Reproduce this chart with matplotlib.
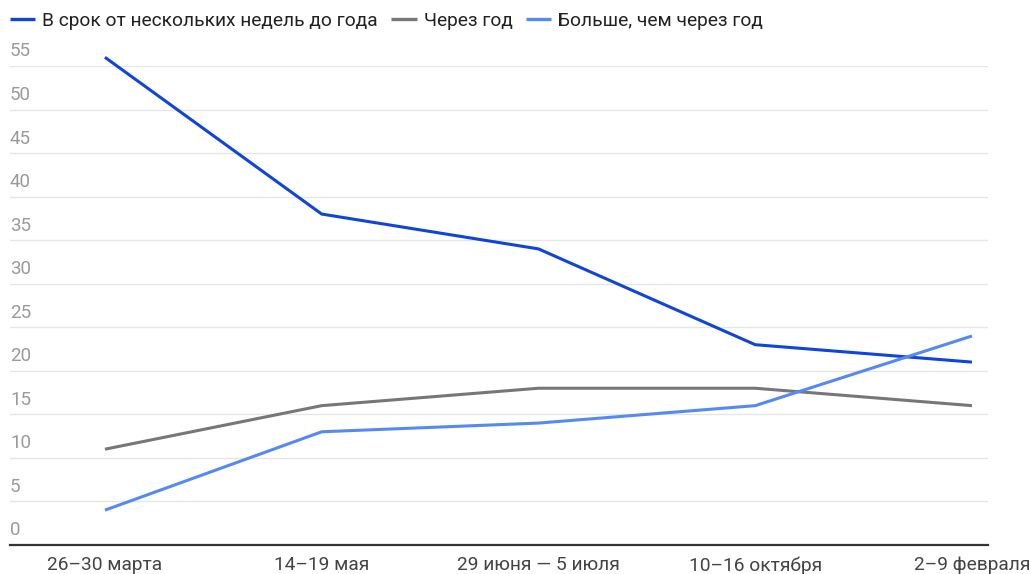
import matplotlib
matplotlib.use("Agg")
import matplotlib.pyplot as plt
from matplotlib import font_manager as fm
import matplotlib.transforms as mtransforms

names = {f.name for f in fm.fontManager.ttflist}
fam = [f for f in ["Liberation Sans Narrow", "Roboto", "DejaVu Sans"] if f in names]
plt.rcParams['font.family'] = fam

categories = ["26–30 марта", "14–19 мая", "29 июня — 5 июля", "10–16 октября", "2–9 февраля"]
series_names = ["В срок от нескольких недель до года", "Через год", "Больше, чем через год"]
weeks_to_year = [56, 38, 34, 23, 21]
in_year = [11, 16, 18, 18, 16]
more_than_year = [4, 13, 14, 16, 24]
y_ticks = [0, 5, 10, 15, 20, 25, 30, 35, 40, 45, 50, 55]

colors = ["#0f44e0", "#777777", "#5589f5"]

W, H = 1031, 574
fig = plt.figure(figsize=(W/100, H/100), dpi=100)
ax = fig.add_axes([10/W, 29/H, 978/W, 479/H])

x = list(range(len(categories)))
for vals, c, n in zip([weeks_to_year, in_year, more_than_year], colors, series_names):
    ax.plot(x, vals, color=c, lw=2.2, label=n, clip_on=False, solid_capstyle='butt', zorder=3)

ax.set_xlim(-0.438, 4.074)
ax.set_ylim(0, 55)
ax.set_yticks(y_ticks)
ax.set_yticklabels([])
ax.tick_params(axis='y', length=0)
ax.grid(axis='y', color="#e6e6e6", lw=1)
ax.set_axisbelow(True)
for s in ["top", "right", "left"]:
    ax.spines[s].set_visible(False)
ax.spines["bottom"].set_color("#333333")
ax.spines["bottom"].set_linewidth(1.6)

trans = mtransforms.blended_transform_factory(ax.transAxes, ax.transData)
for t in y_ticks:
    ax.annotate(str(t), xy=(0, t), xycoords=trans, xytext=(0, 4), textcoords="offset points",
                ha="left", va="bottom", fontsize=13.5, color="#9a9a9a")

ax.set_xticks(x)
ax.set_xticklabels(categories, fontsize=13.8, color="#444444")
ax.tick_params(axis='x', length=0, pad=8)

leg = fig.legend(loc="upper left", bbox_to_anchor=(10/W, 1 - 12/H), ncol=3, frameon=False,
                 fontsize=13.8, handlelength=1.32, handletextpad=0.37, columnspacing=0.69,
                 borderaxespad=0, borderpad=0)
for t in leg.get_texts():
    t.set_color("#222222")
for l in leg.get_lines():
    l.set_linewidth(2.4)

fig.savefig("out.png", dpi=100)
